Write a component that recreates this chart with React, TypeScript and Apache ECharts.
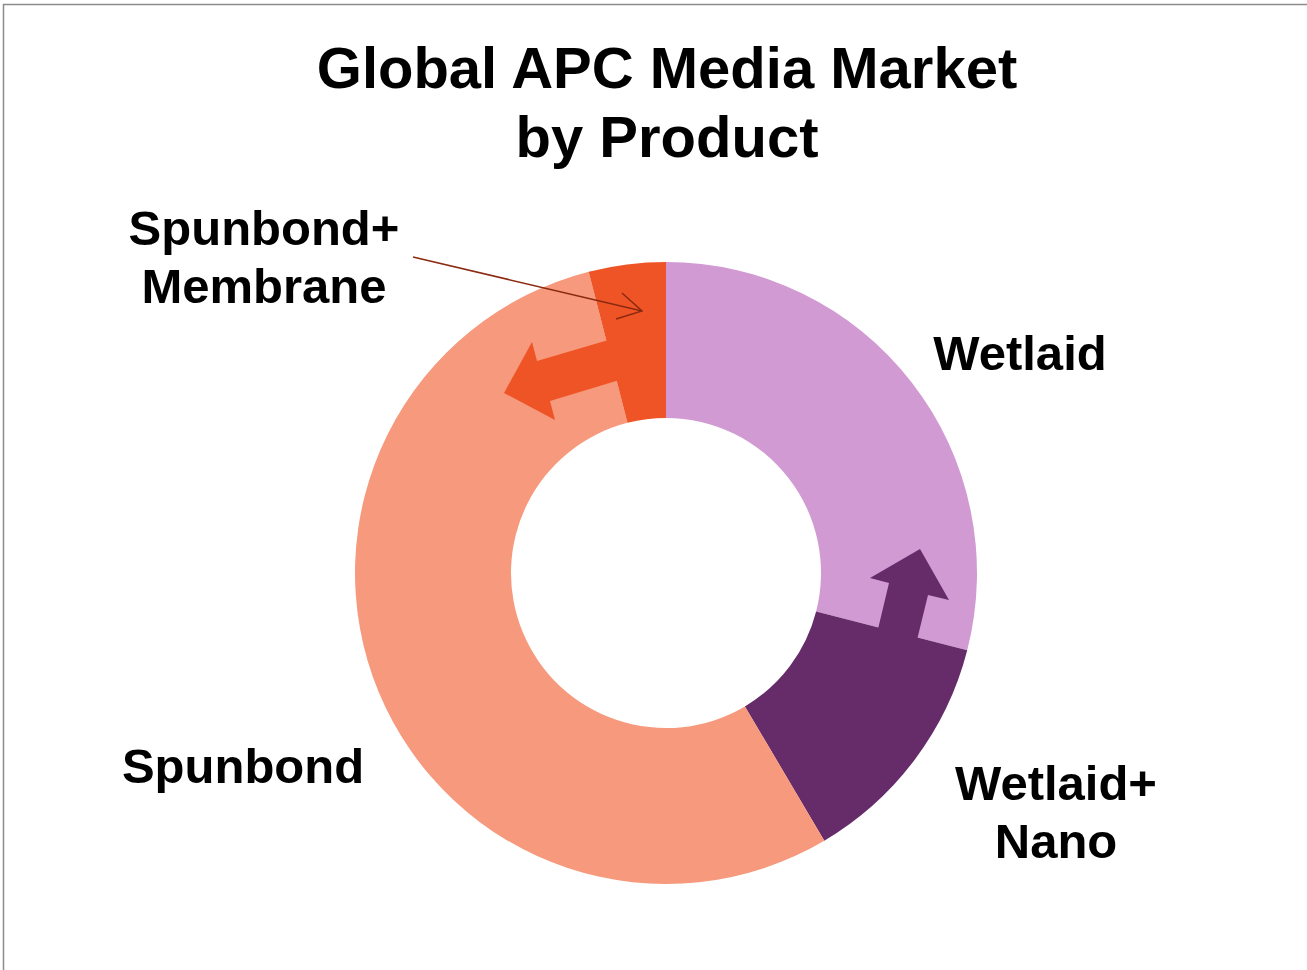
import React, { useEffect, useRef } from "react";
import * as echarts from "echarts";

const categories = ["Wetlaid", "Wetlaid+Nano", "Spunbond", "Spunbond+Membrane"];
const shares = [29, 12.5, 54.5, 4];
const colors = ["#D19AD3", "#652C69", "#F6997C", "#EF5426"];
const titleText = "Global APC Media Market\nby Product";

// label anchor positions (layout, not data)
const labelAnchors = [
  { x: 1020, y: 353 },
  { x: 1056, y: 812 },
  { x: 243, y: 766 },
  { x: 264, y: 257 },
];

export default function App() {
  const ref = useRef<HTMLDivElement>(null);
  useEffect(() => {
    if (!ref.current) return;
    const chart = echarts.init(ref.current, null, { renderer: "svg" });
    const font = "'Liberation Sans', Arial, Helvetica, sans-serif";
    chart.setOption({
      animation: false,
      backgroundColor: "#ffffff",
      title: {
        text: titleText,
        left: 667,
        top: 33,
        padding: 0,
        textAlign: "center",
        textStyle: {
          fontFamily: font,
          fontSize: 58,
          fontWeight: "bold",
          color: "#000000",
          lineHeight: 69,
        },
      },
      series: [
        {
          type: "pie",
          center: [666, 573],
          radius: [155, 311],
          startAngle: 90,
          clockwise: true,
          silent: true,
          itemStyle: { borderWidth: 0 },
          label: {
            show: true,
            formatter: (p: any) => String(p.name).replace("+", "+\n"),
            fontFamily: font,
            fontSize: 49,
            fontWeight: "bold",
            color: "#000000",
            lineHeight: 58,
            align: "center",
          },
          labelLine: { show: false },
          labelLayout: (params: any) => {
            const a = labelAnchors[params.dataIndex];
            return { x: a.x, y: a.y, align: "center", verticalAlign: "middle" };
          },
          data: categories.map((name, i) => ({
            name,
            value: shares[i],
            itemStyle: { color: colors[i] },
          })),
        },
      ],
      graphic: [
        {
          type: "polyline",
          z: 20,
          shape: { points: [[3.5, 1000], [3.5, 4.5], [1400, 4.5]] },
          style: { stroke: "#8c8c8c", lineWidth: 1.5, fill: null },
        },
        {
          type: "polygon",
          z: 20,
          shape: {
            points: [
              [605, 341], [537, 361], [532, 342], [504, 393], [555, 420],
              [550, 401], [616, 381], [640, 376], [640, 336],
            ],
          },
          style: { fill: colors[3] },
        },
        {
          type: "polygon",
          z: 20,
          shape: {
            points: [
              [878, 629], [889, 583], [870, 578], [920, 549], [949, 600],
              [928, 595], [917, 640], [914, 662], [876, 650],
            ],
          },
          style: { fill: colors[1] },
        },
        {
          type: "line",
          z: 21,
          shape: { x1: 413, y1: 257, x2: 642, y2: 311 },
          style: { stroke: "#8B2A10", lineWidth: 1.5 },
        },
        {
          type: "polyline",
          z: 21,
          shape: { points: [[622, 293], [642, 311], [616, 319]] },
          style: { stroke: "#8B2A10", lineWidth: 1.5, fill: null },
        },
      ],
    });
    return () => chart.dispose();
  }, []);
  return (
    <div
      ref={ref}
      style={{ position: "fixed", left: 0, top: 0, width: 1307, height: 970, background: "#fff" }}
    />
  );
}
